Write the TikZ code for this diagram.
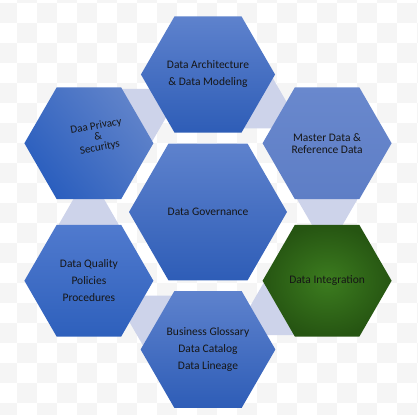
\documentclass[tikz,border=0pt]{standalone}
\usepackage{fontspec}
\setmainfont{Carlito}
\usetikzlibrary{shapes.geometric}

\definecolor{hexlight}{RGB}{94,130,205}
\definecolor{hexdark}{RGB}{46,93,183}
\definecolor{linkfill}{RGB}{205,211,234}
\definecolor{greenin}{RGB}{60,124,31}
\definecolor{greenout}{RGB}{38,85,18}
\definecolor{checker}{RGB}{245,245,245}
\definecolor{labeltext}{RGB}{22,22,22}

\tikzset{
	hexbase/.style={regular polygon,regular polygon sides=6,inner sep=0pt,align=center,text=labeltext,font=\fontsize{11.5}{17}\selectfont},
	hexouter/.style={hexbase,minimum size=129pt,top color=hexlight,bottom color=hexdark},
	hexcentre/.style={hexbase,minimum size=158pt,top color=hexlight,bottom color=hexdark},
	hexlink/.style={regular polygon,regular polygon sides=6,minimum size=60pt,inner sep=0pt,fill=linkfill}
}

\begin{document}
\begin{tikzpicture}[x=1pt,y=1pt]
	\useasboundingbox (0,0) rectangle (418,415);

	\begin{scope}
		\clip (0,0) rectangle (418,415);
		\foreach \i in {0,...,21}
			\foreach \j in {-1,...,20} {
				\pgfmathtruncatemacro{\cpar}{mod(\i+\j+2,2)}
				\ifnum\cpar=0 \fill [checker] (-3+20*\i,392-20*\j) rectangle ++(20,20); \fi
			}
	\end{scope}

	\node [hexlink] (archmaster) at (256.8,312.6) {};
	\node [hexlink] (masterinteg) at (327.3,215.5) {};
	\node [hexlink] (integgloss) at (278.5,105.9) {};
	\node [hexlink] (glossquality) at (159.2,93.4) {};
	\node [hexlink] (qualityprivacy) at (88.7,190.5) {};
	\node [hexlink] (privacyarch) at (137.5,300.1) {};

	\node [hexcentre] (gov) at (208,203) {Data Governance};

	\node [hexouter] (arch) at (208,340.5) {Data Architecture\\\& Data Modeling};
	\node [hexouter,top color={rgb,255:red,105;green,136;blue,205},bottom color={rgb,255:red,94;green,126;blue,198},font=\fontsize{11.5}{12}\selectfont] (master) at (327.1,271.75) {Master Data \&\\Reference Data};
	\node [hexouter,inner color=greenin,outer color=greenout] (integ) at (327.1,134.25) {Data Integration};
	\node [hexouter] (gloss) at (208,65.5) {Business Glossary\\Data Catalog\\Data Lineage};
	\node [hexouter,top color={rgb,255:red,80;green,122;blue,206},bottom color={rgb,255:red,46;green,96;blue,188}] (quality) at (88.9,134.25) {Data Quality\\Policies\\Procedures};
	\node [hexouter,top color={rgb,255:red,96;green,131;blue,202},bottom color={rgb,255:red,42;green,94;blue,190},shading angle=-50] (privacy) at (88.9,271.75) {};

	\node [rotate=10,align=center,text=labeltext,font=\fontsize{11}{11}\selectfont] (privacytext) at (98,278) {Daa Privacy\\\&\\Securitys};
\end{tikzpicture}
\end{document}
